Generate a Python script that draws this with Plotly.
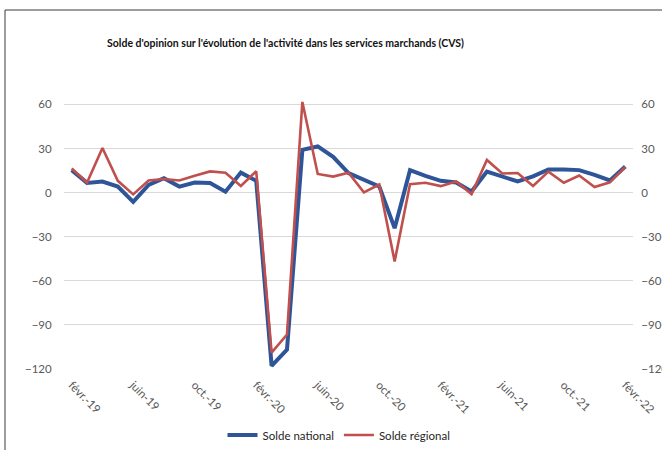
import plotly.graph_objects as go

months = ["févr.-19", "mars-19", "avr.-19", "mai-19", "juin-19", "juil.-19", "août-19", "sept.-19",
          "oct.-19", "nov.-19", "déc.-19", "janv.-20", "févr.-20", "mars-20", "avr.-20", "mai-20",
          "juin-20", "juil.-20", "août-20", "sept.-20", "oct.-20", "nov.-20", "déc.-20", "janv.-21",
          "févr.-21", "mars-21", "avr.-21", "mai-21", "juin-21", "juil.-21", "août-21", "sept.-21",
          "oct.-21", "nov.-21", "déc.-21", "janv.-22", "févr.-22"]

national = [15.3, 6.6, 7.5, 4.1, -6.3, 5.2, 9.8, 4.1, 6.8, 6.6, 0.6, 13.6, 8.0, -117.8, -106.8,
            29.1, 31.4, 24.3, 13.2, 8.5, 4.2, -24.2, 15.3, 11.4, 8.0, 6.9, 0.7, 14.3, 11.3, 7.6,
            11.0, 15.8, 15.8, 15.3, 12.1, 8.3, 17.8]

regional = [16.4, 6.8, 30.3, 8.0, -1.2, 8.2, 9.3, 8.2, 11.5, 14.4, 13.5, 4.5, 14.5, -108.8, -96.6,
            61.7, 12.7, 10.9, 13.6, 0.2, 5.5, -46.8, 5.7, 6.7, 4.4, 7.6, -1.0, 22.2, 13.0, 13.3,
            4.5, 14.3, 6.7, 11.6, 3.8, 7.0, 17.5]

tick_labels = ["févr.-19", "juin-19", "oct.-19", "févr.-20", "juin-20", "oct.-20",
               "févr.-21", "juin-21", "oct.-21", "févr.-22"]
y_ticks = [-120, -90, -60, -30, 0, 30, 60]

FONT = "Lato, Liberation Sans, sans-serif"
TICK_COLOR = "#595959"

fig = go.Figure()
fig.add_trace(go.Scatter(x=months, y=national, mode="lines", name="Solde national",
                         line=dict(color="#2E5597", width=4)))
fig.add_trace(go.Scatter(x=months, y=regional, mode="lines", name="Solde régional",
                         line=dict(color="#C0504D", width=2.6)))
# invisible helper trace for the mirrored right axis
fig.add_trace(go.Scatter(x=months, y=national, mode="lines", yaxis="y2", showlegend=False,
                         hoverinfo="skip", line=dict(color="rgba(0,0,0,0)", width=0)))

yrange = [-120, 63]
fig.update_layout(
    template="plotly",
    width=662, height=450,
    margin=dict(l=64, r=29, t=100, b=81, autoexpand=False),
    paper_bgcolor="white", plot_bgcolor="white",
    font=dict(family=FONT, size=12, color=TICK_COLOR),
    title=dict(text="<b>Solde d'opinion sur l'évolution de l'activité dans les services marchands (CVS)</b>",
               x=285.5 / 662, xanchor="center", y=1 - 43 / 450, yanchor="middle",
               font=dict(family=FONT, size=10.5, color="#111111")),
    xaxis=dict(type="category", range=[-0.5, len(months) - 0.5], automargin=False,
               tickmode="array", tickvals=tick_labels, ticktext=tick_labels,
               tickangle=45, ticks="outside", ticklen=4, tickcolor="rgba(0,0,0,0)",
               showgrid=False, showline=False, zeroline=False,
               tickfont=dict(family=FONT, size=11.5, color=TICK_COLOR)),
    yaxis=dict(range=yrange, tickvals=y_ticks, showgrid=True, gridcolor="#D9D9D9", gridwidth=1,
               automargin=False, zeroline=False, showline=False, ticks="outside", ticklen=9,
               tickcolor="rgba(0,0,0,0)", tickfont=dict(family=FONT, size=11.5, color=TICK_COLOR)),
    yaxis2=dict(range=yrange, tickvals=y_ticks, overlaying="y", side="right", showgrid=False,
                automargin=False, zeroline=False, showline=False, ticks="outside", ticklen=5,
                tickcolor="rgba(0,0,0,0)", tickfont=dict(family=FONT, size=11.5, color=TICK_COLOR)),
    legend=dict(orientation="h", xref="container", yref="container",
                x=339 / 662, xanchor="center", y=1 - 435 / 450, yanchor="middle",
                font=dict(family=FONT, size=11.5, color="#262626"), bgcolor="rgba(0,0,0,0)"),
    showlegend=True,
)

# chart frame (top and left borders visible in the crop)
px0, py0 = 5, 10
pl, pw, pbottom, ph = 64, 569, 369, 269
fx = (px0 - pl) / pw
fy = (pbottom - py0) / ph
fig.add_shape(type="line", xref="paper", yref="paper", x0=fx, x1=2, y0=fy, y1=fy,
              line=dict(color="#3a3a3a", width=1))
fig.add_shape(type="line", xref="paper", yref="paper", x0=fx, x1=fx, y0=fy, y1=-2,
              line=dict(color="#3a3a3a", width=1))

fig.write_html("out.html", config={"displayModeBar": False},
               post_script="document.body.style.margin='0';document.body.style.overflow='hidden';")
